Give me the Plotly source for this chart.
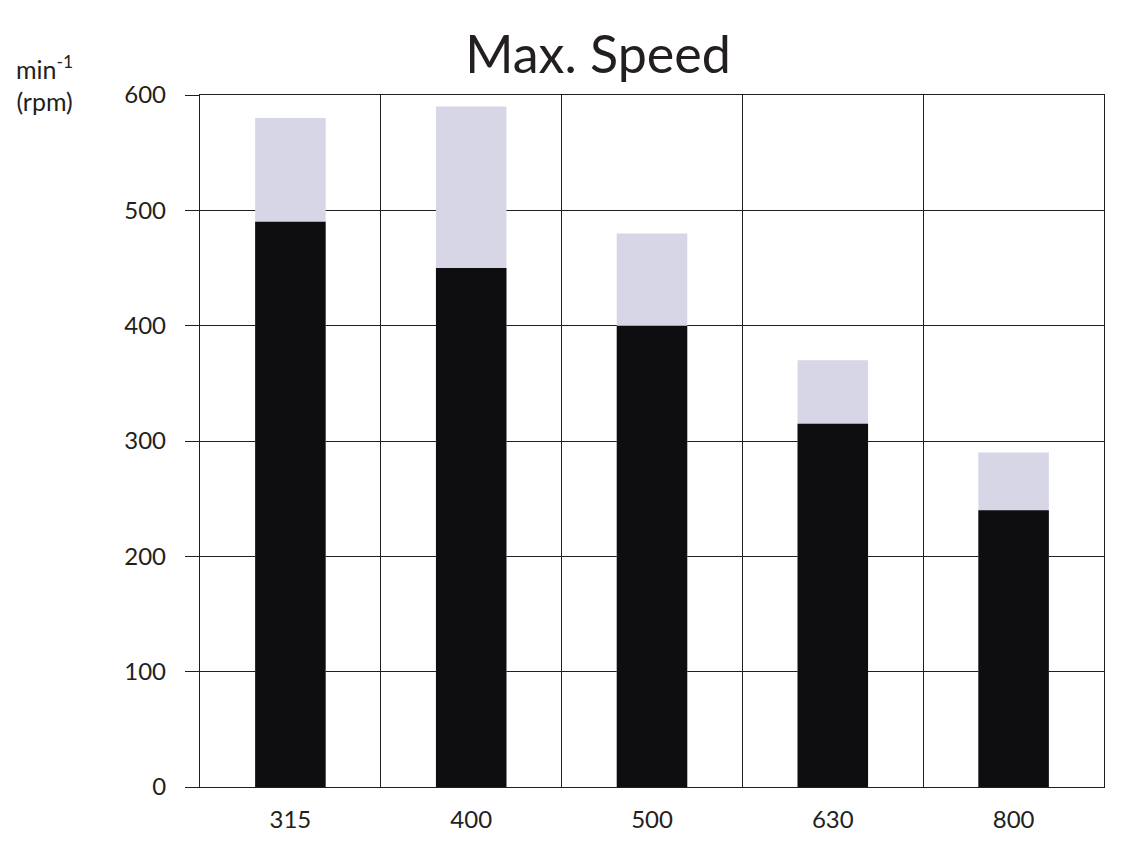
import plotly.graph_objects as go

# Data
categories = ["315", "400", "500", "630", "800"]
standard_speed = [490, 450, 400, 315, 240]   # black bars
max_speed = [580, 590, 480, 370, 290]        # light bars (total height)
y_ticks = [0, 100, 200, 300, 400, 500, 600]

x_pos = list(range(len(categories)))

LINE = "#231f20"
BLACK = "#0e0e10"
LIGHT = "#d6d6e6"
FONT = "Lato"

PLOT_L, PLOT_R, PLOT_T, PLOT_B = 200, 1104, 95, 787
W, H = 1126, 845
PW, PH = PLOT_R - PLOT_L, PLOT_B - PLOT_T

def px_x(px):
    return (px - PLOT_L) / PW

def px_y(py):
    return (PLOT_B - py) / PH

fig = go.Figure()
fig.add_trace(go.Bar(x=x_pos, y=max_speed, marker=dict(color=LIGHT, line=dict(width=0)),
                     width=0.39, showlegend=False, hoverinfo="y"))
fig.add_trace(go.Bar(x=x_pos, y=standard_speed, marker=dict(color=BLACK, line=dict(width=0)),
                     width=0.39, showlegend=False, hoverinfo="y"))

fig.update_layout(
    barmode="overlay",
    width=W, height=H,
    margin=dict(l=PLOT_L, r=W - PLOT_R, t=PLOT_T, b=H - PLOT_B, autoexpand=False),
    paper_bgcolor="white", plot_bgcolor="white",
    font=dict(family=FONT, color=LINE),
    title=dict(text="Max. Speed", font=dict(family=FONT, size=52, color=LINE),
               xref="container", x=598/W, xanchor="center",
               yref="container", y=1-55/H, yanchor="middle"),
    xaxis=dict(
        range=[-0.5, len(categories) - 0.5],
        tickmode="array", tickvals=x_pos, ticktext=categories,
        ticks="", showgrid=False, zeroline=False, automargin=False,
        showline=True, linecolor=LINE, linewidth=1.3, mirror=True,
        tickfont=dict(family=FONT, size=24, color=LINE),
        ticklabelstandoff=11,
        minor=dict(tick0=0.5, dtick=1, showgrid=True, gridcolor=LINE, gridwidth=1.3, ticks=""),
    ),
    yaxis=dict(
        range=[0, 600], automargin=False,
        tickmode="array", tickvals=y_ticks, ticktext=[str(v) for v in y_ticks],
        showgrid=True, gridcolor=LINE, gridwidth=1.3, zeroline=False,
        showline=True, linecolor=LINE, linewidth=1.3, mirror=True,
        ticks="outside", ticklen=14, tickcolor=LINE, tickwidth=1.3,
        tickfont=dict(family=FONT, size=24, color=LINE),
        ticklabelstandoff=14,
    ),
    annotations=[
        dict(text="min<sup>-1</sup><br>(rpm)", xref="paper", yref="paper",
             x=px_x(44), y=px_y(83), xanchor="center", yanchor="middle",
             showarrow=False, align="center",
             font=dict(family=FONT, size=25, color=LINE)),
    ],
)

fig.write_html("out.html", config={"displayModeBar": False},
               post_script="document.body.style.margin='0';")
